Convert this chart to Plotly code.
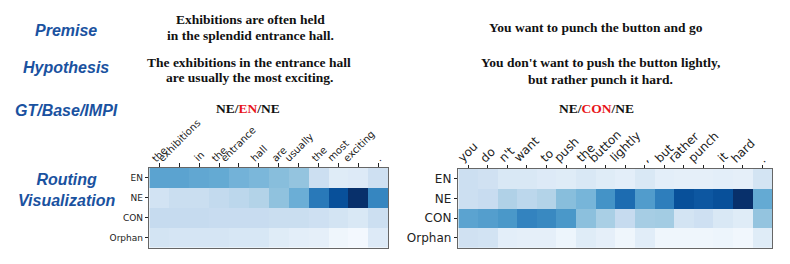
import plotly.graph_objects as go

# ---------------- data ----------------
routes = ["EN", "NE", "CON", "Orphan"]

left_tokens = ["the", "exhibitions", "in", "the", "entrance", "hall", "are",
               "usually", "the", "most", "exciting", "."]
left_en = [0.55, 0.55, 0.53, 0.52, 0.48, 0.46, 0.43, 0.40, 0.22, 0.12, 0.13, 0.21]
left_ne = [0.19, 0.23, 0.23, 0.26, 0.28, 0.31, 0.41, 0.50, 0.72, 0.88, 1.00, 0.67]
left_con = [0.25, 0.25, 0.25, 0.24, 0.24, 0.24, 0.23, 0.23, 0.21, 0.18, 0.15, 0.22]
left_orphan = [0.18, 0.17, 0.17, 0.17, 0.16, 0.16, 0.12, 0.10, 0.09, 0.04, 0.02, 0.13]

right_tokens = ["you", "do", "n't", "want", "to", "push", "the", "button",
                "lightly", ",", "but", "rather", "punch", "it", "hard", "."]
right_en = [0.22, 0.20, 0.15, 0.15, 0.13, 0.12, 0.15, 0.12, 0.10, 0.15, 0.10,
            0.09, 0.09, 0.10, 0.09, 0.18]
right_ne = [0.22, 0.24, 0.32, 0.28, 0.31, 0.43, 0.47, 0.62, 0.77, 0.58, 0.70,
            0.88, 0.85, 0.88, 1.00, 0.52]
right_con = [0.55, 0.57, 0.60, 0.68, 0.66, 0.60, 0.42, 0.34, 0.25, 0.35, 0.36,
             0.18, 0.21, 0.15, 0.12, 0.40]
right_orphan = [0.20, 0.19, 0.10, 0.09, 0.09, 0.05, 0.12, 0.09, 0.04, 0.11,
                0.04, 0.04, 0.04, 0.05, 0.03, 0.12]

row_labels = ["Premise", "Hypothesis", "GT/Base/IMPI", "Routing<br>Visualization"]
left_premise = ["Exhibitions are often held", "in the splendid entrance hall."]
left_hypothesis = ["The exhibitions in the entrance hall", "are usually the most exciting."]
left_labels = ["NE", "EN", "NE"]
right_premise = ["You want to punch the button and go"]
right_hypothesis = ["You don't want to push the button lightly,", "but rather punch it hard."]
right_labels = ["NE", "CON", "NE"]

# ---------------- figure ----------------
W, H = 790, 264
blues = [[0.0, "#f7fbff"], [0.125, "#deebf7"], [0.25, "#c6dbef"], [0.375, "#9ecae1"],
         [0.5, "#6baed6"], [0.625, "#4292c6"], [0.75, "#2171b5"], [0.875, "#08519c"],
         [1.0, "#08306b"]]

def px(x):
    return x / W

def py(y):
    return 1 - y / H

fig = go.Figure()
fig.add_trace(go.Heatmap(
    z=[left_en, left_ne, left_con, left_orphan],
    x=list(range(len(left_tokens))), y=list(range(len(routes))),
    colorscale=blues, zmin=0, zmax=1, showscale=False,
    xaxis="x", yaxis="y", hoverinfo="skip"))
fig.add_trace(go.Heatmap(
    z=[right_en, right_ne, right_con, right_orphan],
    x=list(range(len(right_tokens))), y=list(range(len(routes))),
    colorscale=blues, zmin=0, zmax=1, showscale=False,
    xaxis="x2", yaxis="y2", hoverinfo="skip"))

frame = dict(showline=True, mirror=True, linecolor="#666666", linewidth=1,
             ticks="outside", ticklen=3.5, tickwidth=1, tickcolor="#222222",
             showgrid=False, zeroline=False, fixedrange=True, automargin=False)

fig.update_layout(
    width=W, height=H, margin=dict(l=0, r=0, t=0, b=0, autoexpand=False),
    paper_bgcolor="white", plot_bgcolor="white", showlegend=False,
    xaxis=dict(domain=[px(149.3), px(388.3)], anchor="y", side="top",
               tickmode="array", tickvals=list(range(len(left_tokens))),
               showticklabels=False,
               range=[-0.5, len(left_tokens) - 0.5], **frame),
    yaxis=dict(domain=[py(247.7), py(167.7)], anchor="x",
               tickmode="array", tickvals=list(range(len(routes))), ticktext=routes,
               range=[len(routes) - 0.5, -0.5],
               tickfont=dict(family="DejaVu Sans", size=9, color="#222222"), **frame),
    xaxis2=dict(domain=[px(458.3), px(772.3)], anchor="y2", side="top",
                tickmode="array", tickvals=list(range(len(right_tokens))),
                showticklabels=False,
                range=[-0.5, len(right_tokens) - 0.5], **frame),
    yaxis2=dict(domain=[py(247.7), py(169)], anchor="x2",
                tickmode="array", tickvals=list(range(len(routes))), ticktext=routes,
                range=[len(routes) - 0.5, -0.5],
                tickfont=dict(family="DejaVu Sans", size=12, color="#222222"), **frame),
)

ann = []

# rotated token labels, centred over each tick (matplotlib style)
def add_tokens(tokens, xref, yref, size, shift):
    for i, tok in enumerate(tokens):
        ann.append(dict(x=i, y=1, xref=xref, yref=yref + " domain", text=tok,
                        showarrow=False, textangle=-45, xanchor="center",
                        yanchor="bottom", yshift=shift, borderpad=0, borderwidth=0,
                        font=dict(family="DejaVu Sans", size=size, color="#222222")))

add_tokens(left_tokens, "x", "y", 10, 4)
add_tokens(right_tokens, "x2", "y2", 12, 4)

blue = "#1a52a0"
for text, y in zip(row_labels, [30, 67, 110, 190]):
    ann.append(dict(x=px(66), y=py(y), text=text, showarrow=False,
                    xref="paper", yref="paper", xanchor="center", yanchor="middle",
                    font=dict(family="Liberation Sans", size=16, color=blue,
                              weight="bold", style="italic")))

serif = dict(family="Liberation Serif", size=13.5, color="#111111", weight="bold")

def add_line(text, x, y):
    ann.append(dict(x=px(x), y=py(y), text=text, showarrow=False,
                    xref="paper", yref="paper", xanchor="center", yanchor="middle",
                    font=serif))

for line, y in zip(left_premise, [19, 35]):
    add_line(line, 250, y)
for line, y in zip(left_hypothesis, [62, 78]):
    add_line(line, 249, y)
for line, y in zip(right_premise, [27]):
    add_line(line, 596, y)
for line, y in zip(right_hypothesis, [62, 79]):
    add_line(line, 600, y)

def label_text(parts):
    return (parts[0] + "/" + "<span style='color:#e8161b'>" + parts[1] + "</span>/"
            + parts[2])

add_line(label_text(left_labels), 248, 109)
add_line(label_text(right_labels), 596, 109)

fig.update_layout(annotations=ann)
fig.write_html("out.html", config={"displayModeBar": False, "staticPlot": True},
               post_script="document.body.style.margin='0';"
                           "document.body.style.overflow='hidden';")
